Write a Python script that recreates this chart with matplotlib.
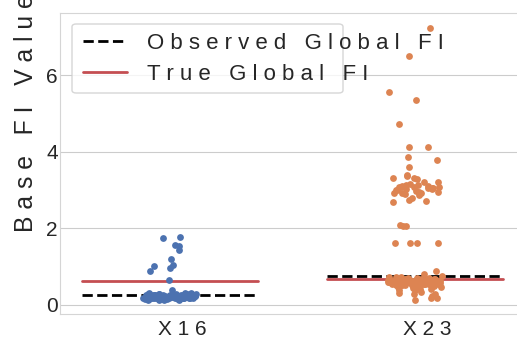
import numpy as np
import matplotlib
matplotlib.use("Agg")
import matplotlib.pyplot as plt
from matplotlib.patches import FancyBboxPatch
from matplotlib.lines import Line2D
import seaborn as sns

# data
features = ["X16", "X23"]

x16_vals = [0.14, 0.18, 0.21, 0.25, 0.28, 0.16, 0.22, 0.19, 0.27, 0.30,
            0.12, 0.24, 0.20, 0.26, 0.17, 0.23, 0.29, 0.15, 0.21, 0.25,
            0.19, 0.28, 0.13, 0.22, 0.26, 0.18, 0.24, 0.31, 0.16, 0.20,
            0.27, 0.23, 0.15, 0.19, 0.25, 0.21, 0.29, 0.17, 0.24, 0.22,
            0.26, 0.14, 0.20, 0.28, 0.18, 0.23, 0.30, 0.16, 0.25, 0.21,
            0.19, 0.27, 0.22, 0.24, 0.17, 0.26, 0.20, 0.23, 0.29, 0.18,
            0.21, 0.24, 0.19, 0.27, 0.22, 0.25, 0.20, 0.23, 0.26, 0.18,
            0.22, 0.25, 0.21, 0.28, 0.19, 0.24, 0.23, 0.20, 0.26, 0.22,
            0.24, 0.21, 0.27, 0.19, 0.23, 0.25, 0.22, 0.20, 0.24, 0.26,
            1.78, 1.76, 1.56, 1.54, 1.43, 1.20, 1.04, 1.01, 0.97, 0.90,
            0.64, 0.40]

x23_vals = [7.22, 6.50, 5.55, 5.35, 4.72, 4.12, 4.12, 3.86, 3.78, 3.60,
            3.39, 3.36, 3.31, 3.31, 3.30, 3.20, 3.12, 3.10, 3.08, 3.05,
            3.05, 3.04, 3.06, 3.10, 3.08, 3.12, 2.92, 2.94, 2.90, 2.92,
            2.88, 2.93, 2.80, 2.74, 2.72, 2.70, 3.00, 2.98, 3.15, 3.22,
            3.02, 3.07, 2.96, 3.09, 3.01,
            2.05, 2.06, 2.08, 1.62, 1.62, 1.62, 1.63,
            0.81, 0.88, 0.76,
            0.52, 0.55, 0.58, 0.61, 0.64, 0.67, 0.70, 0.54, 0.57, 0.60,
            0.63, 0.66, 0.69, 0.53, 0.56, 0.59, 0.62, 0.65, 0.68, 0.71,
            0.55, 0.58, 0.61, 0.64, 0.67, 0.52, 0.57, 0.60, 0.63, 0.66,
            0.69, 0.54, 0.59, 0.62, 0.65, 0.68, 0.56, 0.61, 0.64, 0.58,
            0.53, 0.60, 0.67, 0.62, 0.57, 0.64, 0.70, 0.55, 0.63, 0.66,
            0.59, 0.61, 0.68, 0.56, 0.62, 0.65, 0.58, 0.60, 0.63, 0.57,
            0.60, 0.62, 0.64, 0.58, 0.61, 0.63, 0.59, 0.65, 0.60, 0.62,
            0.57, 0.61, 0.64, 0.66, 0.59, 0.62, 0.60, 0.63, 0.58, 0.61,
            0.62, 0.60, 0.64, 0.59, 0.63, 0.61, 0.65, 0.58, 0.62, 0.60,
            0.56, 0.61, 0.63, 0.59, 0.62, 0.64, 0.60, 0.57, 0.61, 0.63,
            0.72, 0.74, 0.50, 0.48, 0.73, 0.51,
            0.39, 0.42, 0.29, 0.23, 0.32, 0.29, 0.44, 0.41, 0.18, 0.18,
            0.13, 0.35, 0.45, 0.47, 0.38]

observed_fi = [0.27, 0.76]
true_fi = [0.62, 0.69]

sns.set_style("whitegrid")
plt.rcParams["font.family"] = ["Liberation Sans", "DejaVu Sans"]
txt = "#262626"
blue, orange = sns.color_palette("deep")[0], sns.color_palette("deep")[1]
red = sns.color_palette("deep")[3]

def spaced(s):
    return " ".join(s)

W, H = 517, 346
fig = plt.figure(figsize=(W / 100, H / 100), dpi=100)
ax = fig.add_axes([60 / W, (H - 314) / H, 489.5 / W, 301 / H])

rng = np.random.default_rng(3)
shift = -0.05
for i, (vals, col) in enumerate(zip([x16_vals, x23_vals], [blue, orange])):
    v = np.array(vals)
    xs = i + shift + rng.uniform(-0.11, 0.11, len(v))
    ax.scatter(xs, v, s=24, color=col, linewidth=0, zorder=3)
    ax.plot([i + shift - 0.36, i + shift + 0.36], [observed_fi[i]] * 2,
            color="black", ls="--", lw=2, zorder=2)
    ax.plot([i + shift - 0.36, i + shift + 0.36], [true_fi[i]] * 2,
            color=red, lw=2, zorder=2)

ax.set_xlim(-0.5, 1.5)
ax.set_ylim(-0.235, 7.62)
ax.set_xticks(range(len(features)))
ax.set_xticklabels([spaced(f) for f in features])
ax.set_yticks([0, 2, 4, 6])
ax.tick_params(axis="both", labelsize=15, colors=txt, length=0)
ax.tick_params(axis="y", pad=1.5)
ax.tick_params(axis="x", pad=4)
ax.grid(axis="x", visible=False)
for sp in ax.spines.values():
    sp.set_color("#d5d5d5")

# the y label runs past the top edge in the reference too
fig.text(26 / W, 1 - 113 / H, spaced("Base FI Value"), rotation=90,
         ha="center", va="center", fontsize=17.8, color=txt)

handles = [Line2D([], [], color="black", ls="--", lw=2),
           Line2D([], [], color=red, lw=2)]
leg = ax.legend(handles, [spaced("Observed Global FI"), spaced("True Global FI")],
                loc="upper left", bbox_to_anchor=(74 / W, 1 - 24 / H),
                bbox_transform=fig.transFigure, borderaxespad=0,
                frameon=False, fontsize=16, labelcolor=txt,
                handlelength=2.0, handletextpad=0.9, labelspacing=0.45)
frame = FancyBboxPatch((72 / W, 1 - 93 / H), (343 - 72) / W, 69 / H,
                       boxstyle="round,pad=0,rounding_size=0.008",
                       transform=fig.transFigure, facecolor="white",
                       alpha=0.8, edgecolor="#cccccc", lw=1, zorder=4.5,
                       clip_on=False)
ax.add_artist(frame)

fig.savefig("out.png", dpi=100)
